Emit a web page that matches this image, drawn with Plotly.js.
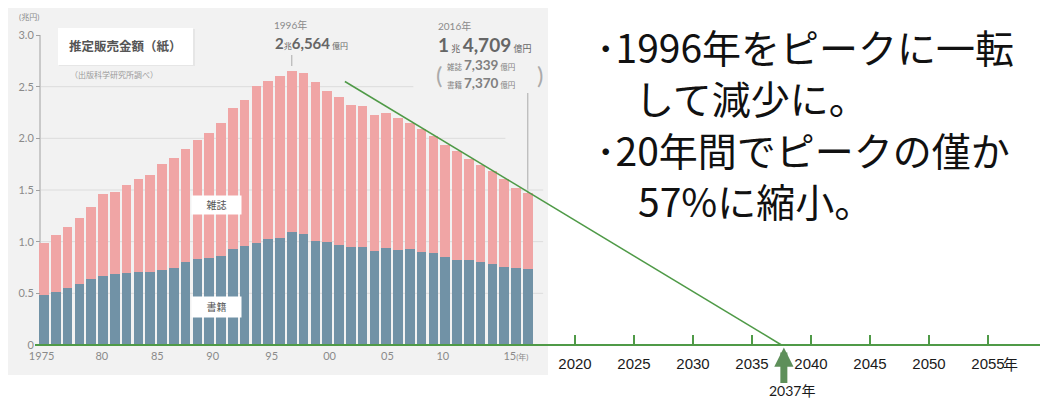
<!DOCTYPE html>
<html>
<head>
<meta charset="utf-8">
<script src="https://cdn.plot.ly/plotly-3.0.1.min.js"></script>
<style>
html,body{margin:0;padding:0;background:#fff;}
#chart{width:1040px;height:398px;}
</style>
</head>
<body>
<div id="chart"></div>
<script>
// ---- data (兆円) ----
const years = [1975,1976,1977,1978,1979,1980,1981,1982,1983,1984,1985,1986,1987,1988,1989,1990,1991,1992,1993,1994,1995,1996,1997,1998,1999,2000,2001,2002,2003,2004,2005,2006,2007,2008,2009,2010,2011,2012,2013,2014,2015,2016];
const books = [0.484,0.510,0.550,0.587,0.636,0.668,0.684,0.700,0.703,0.703,0.726,0.742,0.800,0.829,0.845,0.862,0.929,0.958,0.990,1.023,1.040,1.093,1.073,1.010,0.994,0.971,0.946,0.949,0.906,0.943,0.920,0.933,0.903,0.888,0.849,0.821,0.820,0.801,0.785,0.754,0.742,0.737];
const magazines = [0.506,0.555,0.595,0.645,0.703,0.791,0.800,0.849,0.904,0.943,1.023,1.065,1.094,1.155,1.205,1.284,1.361,1.412,1.517,1.536,1.560,1.563,1.564,1.532,1.467,1.426,1.379,1.362,1.322,1.300,1.277,1.220,1.183,1.130,1.086,1.054,0.984,0.939,0.897,0.852,0.780,0.734];
const innerTickVals = [1974.8,1979.9,1984.6,1989.3,1994.3,1999.2,2004.1,2008.8,2015.0];
const innerTickText = ['1975','80','85','90','95','00','05','10','15<span style="font-size:8px">(年)</span>'];
const outerTickVals = [2020,2025,2030,2035,2040,2045,2050,2055];
const outerTickText = ['2020','2025','2030','2035','2040','2045','2050','2055'];
const yTickVals = [0,0.5,1,1.5,2,2.5,3];
const yTickText = ['0','0.5','1.0','1.5','2.0','2.5','3.0'];
const gridVals = [0.5,1.0,1.5,2.0,2.5];
const gridEnds = [2017.3,2017.3,2017.3,2014.1,2006.3];
const trendYears = [2000.5,2037.5];
const trendVals = [2.55,0];
const forecastYear = 2037.7;
const peakYear = 1996;
const lastYear = 2016;

// ---- geometry helpers ----
const W = 1040, H = 398;
const PXY = 11.8;            // px per year
const X0PX = 44;             // px of 1975
const ZEROPX = 345, UNIT = 103.33;
const xr = [1975 - X0PX/PXY, 1975 + (W - X0PX)/PXY];
const yr = [-(H - ZEROPX)/UNIT, ZEROPX/UNIT];
const yearAt = p => 1975 + (p - X0PX)/PXY;
const px = p => p/W;
const py = p => 1 - p/H;

const GREEN = '#4f9a47';
const GRAY = '#8a8a8a';
const JP = 'Noto Sans CJK JP';

const traces = [
  {type:'bar', x:years, y:books, name:'書籍', marker:{color:'#7192a6'}, hoverinfo:'skip'},
  {type:'bar', x:years, y:magazines, name:'雑誌', marker:{color:'#f0a5a5'}, hoverinfo:'skip'},
  {type:'scatter', x:[outerTickVals[0]], y:[0], xaxis:'x2', yaxis:'y', mode:'markers', marker:{opacity:0}, hoverinfo:'skip', showlegend:false}
];

const shapes = [
  {type:'rect', xref:'paper', yref:'paper', x0:px(8), x1:px(548), y0:py(375), y1:py(8), fillcolor:'#f2f2f2', line:{width:0}, layer:'below'},
  {type:'rect', xref:'paper', yref:'paper', x0:px(59), x1:px(195), y0:py(66), y1:py(29), fillcolor:'#e6e6e6', line:{width:0}, layer:'below'},
  {type:'rect', xref:'paper', yref:'paper', x0:px(58), x1:px(193), y0:py(65), y1:py(28), fillcolor:'#ffffff', line:{width:0}, layer:'below'},
  {type:'line', xref:'paper', yref:'y', x0:px(40), x1:px(40), y0:0, y1:3, line:{color:'#a0a0a0', width:1}, layer:'below'},
  {type:'line', xref:'x', yref:'y', x0:yearAt(35), x1:xr[1], y0:0, y1:0, line:{color:GREEN, width:2}},
  {type:'line', xref:'x', yref:'y', x0:trendYears[0], x1:trendYears[1], y0:trendVals[0], y1:trendVals[1], line:{color:GREEN, width:1.5}},
  {type:'line', xref:'x', yref:'paper', x0:peakYear, x1:peakYear, y0:py(66), y1:py(55), line:{color:'#aaaaaa', width:1}},
  {type:'line', xref:'x', yref:'paper', x0:lastYear, x1:lastYear, y0:py(193), y1:py(93), line:{color:'#aaaaaa', width:1}, layer:'below'}
];
gridVals.forEach((v,i) => shapes.push({type:'line', xref:'x', yref:'y', x0:yearAt(41), x1:gridEnds[i], y0:v, y1:v, line:{color:'#dcdcdc', width:1}, layer:'below'}));

const sm = t => '<span style="font-size:7.5px">' + t + '</span>';
const annotations = [
  {xref:'paper', yref:'paper', x:px(17), y:py(17), xanchor:'left', yanchor:'middle', text:'(兆円)', showarrow:false, font:{size:8, color:GRAY}},
  {xref:'paper', yref:'paper', x:px(125.5), y:py(46.5), xanchor:'center', yanchor:'middle', text:'<b>推定販売金額（紙）</b>', showarrow:false, font:{size:12.5, color:'#555'}},
  {xref:'paper', yref:'paper', x:px(68), y:py(75), xanchor:'left', yanchor:'middle', text:'（出版科学研究所調べ）', showarrow:false, font:{size:8, color:'#9a9a9a'}},
  {xref:'x', yref:'y', x:yearAt(216.5), y:(ZEROPX-205)/UNIT, text:'雑誌', showarrow:false, bgcolor:'#ffffff', width:47, height:16, font:{size:10, color:'#555'}},
  {xref:'x', yref:'y', x:yearAt(216.5), y:(ZEROPX-307)/UNIT, text:'書籍', showarrow:false, bgcolor:'#ffffff', width:47, height:18, font:{size:10, color:'#555'}},
  {xref:'paper', yref:'paper', x:px(272), y:py(25), xanchor:'left', yanchor:'middle', text:'1996年', showarrow:false, font:{size:10, color:GRAY}},
  {xref:'paper', yref:'paper', x:px(273), y:py(43), xanchor:'left', yanchor:'middle', text:'<b><span style="font-size:15px">2</span></b>兆<b><span style="font-size:15px">6,564</span></b> 億円', showarrow:false, font:{size:8, color:'#666'}},
  {xref:'paper', yref:'paper', x:px(436), y:py(26), xanchor:'left', yanchor:'middle', text:'2016年', showarrow:false, font:{size:10, color:GRAY}},
  {xref:'paper', yref:'paper', x:px(436), y:py(45), xanchor:'left', yanchor:'middle', text:'<b><span style="font-size:19px">1</span></b> 兆 <b><span style="font-size:19px">4,709</span></b> 億円', showarrow:false, font:{size:9, color:'#666'}},
  {xref:'paper', yref:'paper', x:px(434), y:py(74), xanchor:'left', yanchor:'middle', text:'(', showarrow:false, font:{size:24, color:'#aaa'}},
  {xref:'paper', yref:'paper', x:px(545), y:py(74), xanchor:'right', yanchor:'middle', text:')', showarrow:false, font:{size:24, color:'#aaa'}},
  {xref:'paper', yref:'paper', x:px(445), y:py(74), xanchor:'left', yanchor:'middle', align:'left',
   text:sm('雑誌 ') + '<b>7,339</b>' + sm(' 億円') + '<br>' + sm('書籍 ') + '<b>7,370</b>' + sm(' 億円'), showarrow:false, font:{size:13.5, color:'#808080'}},
  {xref:'paper', yref:'paper', x:px(594), y:py(46), xanchor:'left', yanchor:'middle', text:'･1996年をピークに一転', showarrow:false, font:{size:39, color:'#111', family:JP}},
  {xref:'paper', yref:'paper', x:px(633), y:py(97), xanchor:'left', yanchor:'middle', text:'して減少に。', showarrow:false, font:{size:39, color:'#111', family:JP}},
  {xref:'paper', yref:'paper', x:px(594), y:py(149), xanchor:'left', yanchor:'middle', text:'･20年間でピークの僅か', showarrow:false, font:{size:39, color:'#111', family:JP}},
  {xref:'paper', yref:'paper', x:px(636), y:py(200), xanchor:'left', yanchor:'middle', text:'57%に縮小。', showarrow:false, font:{size:39, color:'#111', family:JP}},
  {xref:'x', yref:'y', x:forecastYear, y:-0.025, ax:0, ay:37, text:'', showarrow:true, arrowhead:2, arrowsize:0.55, arrowwidth:7, arrowcolor:'#5e8f5a'},
  {xref:'paper', yref:'paper', x:px(792), y:py(390), xanchor:'center', yanchor:'middle', text:'2037年', showarrow:false, font:{size:14, color:'#1a1a1a'}},
  {xref:'paper', yref:'paper', x:px(1001), y:py(364), xanchor:'left', yanchor:'middle', text:'年', showarrow:false, font:{size:15, color:'#1a1a1a'}}
];

const layout = {
  width:W, height:H,
  margin:{l:0, r:0, t:0, b:0},
  paper_bgcolor:'#ffffff', plot_bgcolor:'#ffffff',
  showlegend:false, barmode:'stack', bargap:0.2,
  font:{family:'Lato, "Noto Sans CJK JP", sans-serif', color:'#555'},
  xaxis:{range:xr, domain:[0,1], anchor:'free', position:(H-ZEROPX)/H, showline:false, showgrid:false, zeroline:false,
         ticks:'', tickmode:'array', tickvals:innerTickVals, ticktext:innerTickText, tickfont:{size:11, color:GRAY}, ticklabelstandoff:3, fixedrange:true},
  xaxis2:{range:xr, overlaying:'x', anchor:'free', position:(H-ZEROPX)/H, side:'bottom', showline:false, showgrid:false, zeroline:false,
          ticks:'inside', ticklen:10, tickwidth:2, tickcolor:GREEN, tickmode:'array', tickvals:outerTickVals, ticktext:outerTickText,
          tickfont:{size:15, color:'#1a1a1a', family:'"Liberation Sans", Arial, sans-serif'}, ticklabelstandoff:8, fixedrange:true},
  yaxis:{range:yr, domain:[0,1], anchor:'free', position:40/W, showline:false, showgrid:false, zeroline:false,
         ticks:'outside', ticklen:4, tickcolor:'#a0a0a0', tickmode:'array', tickvals:yTickVals, ticktext:yTickText,
         tickfont:{size:11, color:GRAY}, fixedrange:true},
  shapes:shapes,
  annotations:annotations
};

Plotly.newPlot('chart', traces, layout, {displayModeBar:false, staticPlot:true});
</script>
</body>
</html>
